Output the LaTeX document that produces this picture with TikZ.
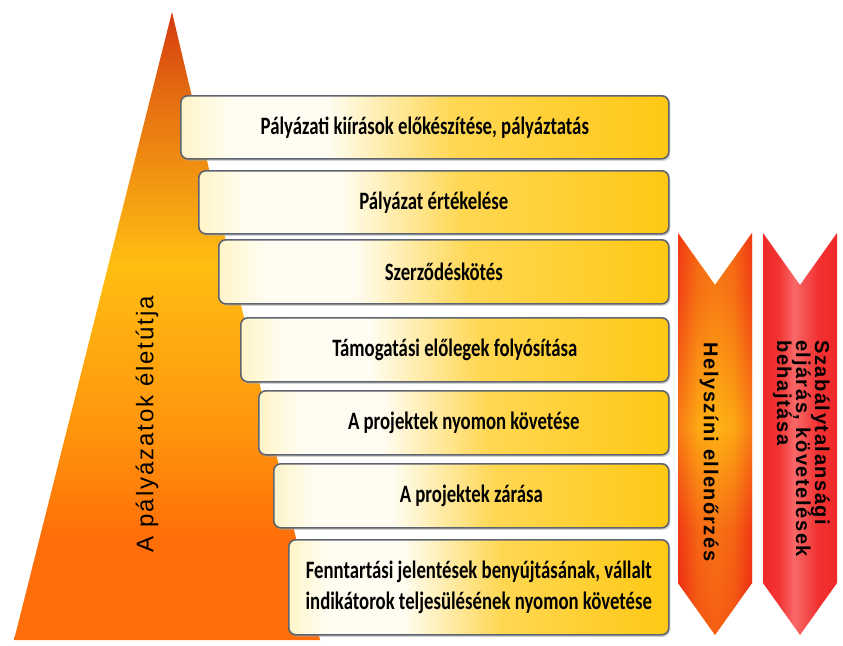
\documentclass[tikz,border=0pt]{standalone}
\usepackage{fontspec}
\setmainfont{Carlito}
\newfontfamily\arialfont[LetterSpace=8]{Liberation Sans}
\newfontfamily\arrowfont[LetterSpace=8]{Liberation Sans}
\usetikzlibrary{shadows,shapes.geometric}
\definecolor{boxcream}{HTML}{FFF4C8}
\definecolor{boxwhite}{HTML}{FFFDF2}
\definecolor{boxgold}{HTML}{FFC814}
\definecolor{boxedge}{HTML}{5E6470}
\definecolor{tritop}{HTML}{D43A10}
\definecolor{trimid}{HTML}{FFBE12}
\definecolor{tribot}{HTML}{FF6E08}
\definecolor{arrred}{HTML}{EE2814}
\definecolor{arrorange}{HTML}{FFB414}
\definecolor{arrtwo}{HTML}{F02828}
\definecolor{arrtwolight}{HTML}{F86868}
% shadings: the path's box maps to 25bp..75bp; 25bp is the bottom, 75bp the top
\pgfdeclarehorizontalshading{boxshade}{100bp}{
  color(0bp)=(boxcream); color(25bp)=(boxcream); color(30bp)=(boxwhite); color(40bp)=(boxwhite);
  color(53bp)=(boxgold!72!boxwhite); color(75bp)=(boxgold); color(100bp)=(boxgold)}
\pgfdeclareverticalshading{trishade}{100bp}{
  color(0bp)=(tribot); color(25bp)=(tribot); color(33bp)=(tribot); color(42bp)=(trimid!50!tribot);
  color(55bp)=(trimid); color(69bp)=(tritop!65!trimid); color(75bp)=(tritop); color(100bp)=(tritop)}
\pgfdeclareverticalshading{arrshade}{100bp}{
  color(0bp)=(arrred); color(25bp)=(arrred); color(38bp)=(arrred!80!arrorange);
  color(51bp)=(arrorange); color(67bp)=(arrred!65!arrorange); color(75bp)=(arrred!80!arrorange); color(100bp)=(arrred!80!arrorange)}
\pgfdeclarehorizontalshading{arrtwoshade}{100bp}{
  color(0bp)=(arrtwo); color(25bp)=(arrtwo); color(36bp)=(arrtwo!80!arrtwolight); color(46bp)=(arrtwolight);
  color(62bp)=(arrtwo!85!arrtwolight); color(75bp)=(arrtwo); color(100bp)=(arrtwo)}
\pgfdeclarehorizontalshading{arredge}{100bp}{
  color(0bp)=(arrred); color(25bp)=(arrred); color(38bp)=(arrred!20!arrorange); color(50bp)=(arrorange);
  color(62bp)=(arrred!20!arrorange); color(75bp)=(arrred); color(100bp)=(arrred)}
\tikzset{
  stepbox/.style={draw=boxedge, line width=1.6pt, rounded corners=7pt,
    shading=boxshade, anchor=north west, inner sep=0pt, align=center,
    font=\fontsize{25}{31}\selectfont\bfseries,
    drop shadow={shadow xshift=1.5pt, shadow yshift=-2pt, fill=black!35}},
}
\newcommand{\narrow}[1]{\scalebox{0.75}[1]{#1}}
\begin{document}
\begin{tikzpicture}[x=1pt,y=-1pt]
\useasboundingbox (0,0) rectangle (843,645);
% triangle
\shade[shading=trishade] (172,12) -- (320,640) -- (14,640) -- cycle;
\node[rotate=90, font=\arialfont\fontsize{24}{26}\selectfont] (tri) at (147,424) {A pályázatok életútja};
% boxes
\node[stepbox, minimum width=488pt, minimum height=63pt] (b1) at (180,95) {\narrow{Pályázati kiírások előkészítése, pályáztatás}};
\node[stepbox, minimum width=470pt, minimum height=63pt] (b2) at (198,170) {\narrow{Pályázat értékelése}};
\node[stepbox, minimum width=450pt, minimum height=64pt] (b3) at (218,239) {\narrow{Szerződéskötés}};
\node[stepbox, minimum width=428pt, minimum height=64pt] (b4) at (240,317) {\narrow{Támogatási előlegek folyósítása}};
\node[stepbox, minimum width=410pt, minimum height=64pt] (b5) at (258,390) {\narrow{A projektek nyomon követése}};
\node[stepbox, minimum width=395pt, minimum height=64pt] (b6) at (273,463) {\narrow{A projektek zárása}};
\node[stepbox, minimum width=380pt, minimum height=95pt] (b7) at (288,539) {\narrow{Fenntartási jelentések benyújtásának, vállalt}\\\narrow{indikátorok teljesülésének nyomon követése}};
% chevron arrows
\shade[shading=arredge] (678,233) -- (715,285) -- (752,233) -- (752,583) -- (715,635) -- (678,583) -- cycle;
\shade[shading=arrshade, opacity=0.6] (678,233) -- (715,285) -- (752,233) -- (752,583) -- (715,635) -- (678,583) -- cycle;
\shade[shading=arrtwoshade] (763,233) -- (800,285) -- (837,233) -- (837,583) -- (800,635) -- (763,583) -- cycle;
\node[rotate=-90, font=\arrowfont\bfseries\fontsize{20}{22}\selectfont] (a1) at (709,452) {Helyszíni ellenőrzés};
\node[rotate=-90, anchor=north west, align=left, inner sep=0pt, font=\arrowfont\bfseries\fontsize{20}{19}\selectfont] (a2) at (830,340) {Szabálytalansági\\eljárás, követelések\\behajtása};
\end{tikzpicture}
\end{document}
